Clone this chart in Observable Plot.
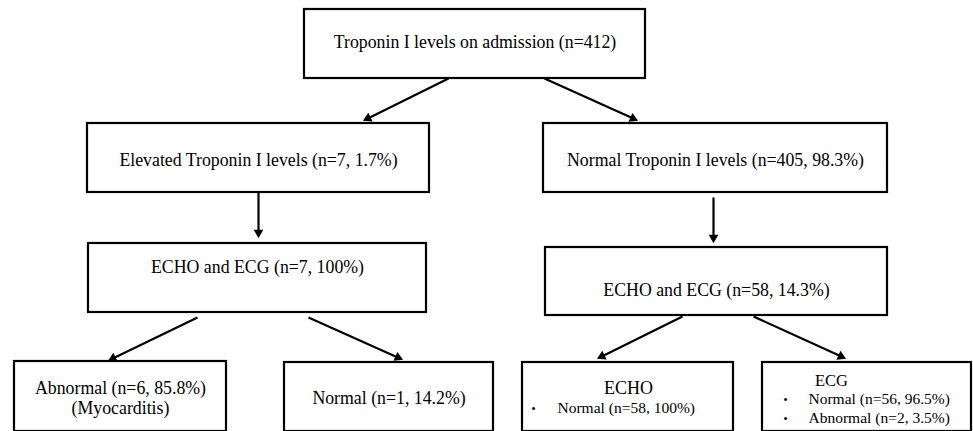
<!DOCTYPE html>
<html>
<head>
<meta charset="utf-8">
<script src="https://cdn.jsdelivr.net/npm/d3@7"></script>
<script src="https://cdn.jsdelivr.net/npm/@observablehq/plot@0.6"></script>
<style>
  html, body { margin: 0; padding: 0; background: #fff; }
  #chart svg { display: block; }
</style>
</head>
<body>
<div id="chart"></div>
<script>
// ---- content (text of each node) ----
const nodeIds = ["root", "elevated", "normalTrop", "echoEcgElev", "echoEcgNorm", "abnormal", "normalElev", "echo", "ecg"];
const nodeTitles = [
  "Troponin I levels on admission (n=412)",
  "Elevated Troponin I levels (n=7, 1.7%)",
  "Normal Troponin I levels (n=405, 98.3%)",
  "ECHO and ECG (n=7, 100%)",
  "ECHO and ECG (n=58, 14.3%)",
  "Abnormal (n=6, 85.8%)",
  "Normal (n=1, 14.2%)",
  "ECHO",
  "ECG"
];
const nodeSubtitles = ["", "", "", "", "", "(Myocarditis)", "", "", ""];
const echoBullets = ["Normal (n=58, 100%)"];
const ecgBullets = ["Normal (n=56, 96.5%)", "Abnormal (n=2, 3.5%)"];
const edges = [
  ["root", "elevated"], ["root", "normalTrop"],
  ["elevated", "echoEcgElev"], ["normalTrop", "echoEcgNorm"],
  ["echoEcgElev", "abnormal"], ["echoEcgElev", "normalElev"],
  ["echoEcgNorm", "echo"], ["echoEcgNorm", "ecg"]
];

// ---- layout (diagram geometry, kept apart from the content) ----
const boxLayout = {
  root:        {x1: 304, x2: 645, y1: 9,   y2: 78,  ty: [42]},
  elevated:    {x1: 87,  x2: 429, y1: 123, y2: 192, ty: [160]},
  normalTrop:  {x1: 543, x2: 887, y1: 123, y2: 192, ty: [160]},
  echoEcgElev: {x1: 88,  x2: 426, y1: 243, y2: 312, ty: [267]},
  echoEcgNorm: {x1: 545, x2: 887, y1: 247, y2: 315, ty: [290]},
  abnormal:    {x1: 14,  x2: 226, y1: 361, y2: 431, ty: [388, 408]},
  normalElev:  {x1: 284, x2: 493, y1: 362, y2: 431, ty: [398]},
  echo:        {x1: 522, x2: 733, y1: 362, y2: 431, ty: [388], tx: 628, size: 18, by: [408], bx: 533, btx: 557},
  ecg:         {x1: 762, x2: 971, y1: 362, y2: 431, ty: [380], tx: 831, size: 16.5, by: [399, 418], bx: 785, btx: 808}
};
const edgeLayout = [
  {x1: 448, y1: 78,  x2: 363, y2: 120},
  {x1: 544, y1: 78,  x2: 637, y2: 120},
  {x1: 258, y1: 192, x2: 258, y2: 237},
  {x1: 713, y1: 197, x2: 713, y2: 242},
  {x1: 197, y1: 317, x2: 108, y2: 360},
  {x1: 308, y1: 317, x2: 402, y2: 359},
  {x1: 682, y1: 316, x2: 597, y2: 358},
  {x1: 753, y1: 316, x2: 845, y2: 358}
];

// ---- build tables ----
const boxes = nodeIds.map((id, i) => ({id, ...boxLayout[id]}));

const texts = [];
nodeIds.forEach((id, i) => {
  const L = boxLayout[id];
  const cx = L.tx ?? (L.x1 + L.x2) / 2;
  const size = L.size ?? 17.8;
  texts.push({x: cx, y: L.ty[0], text: nodeTitles[i], size, anchor: "middle"});
  if (nodeSubtitles[i]) texts.push({x: cx, y: L.ty[1], text: nodeSubtitles[i], size, anchor: "middle"});
});
const bullets = [];
[["echo", echoBullets], ["ecg", ecgBullets]].forEach(([id, list]) => {
  const L = boxLayout[id];
  list.forEach((t, j) => {
    bullets.push({x: L.btx, y: L.by[j], text: t, bx: L.bx});
  });
});

const HEAD = 8;
const links = edges.map((e, i) => {
  const g = edgeLayout[i];
  const dx = g.x2 - g.x1, dy = g.y2 - g.y1, len = Math.hypot(dx, dy);
  const ux = dx / len, uy = dy / len;
  return {
    from: e[0], to: e[1],
    x1: g.x1, y1: g.y1,
    x2: g.x2 - ux * (HEAD - 1), y2: g.y2 - uy * (HEAD - 1),
    hx: g.x2 - ux * HEAD * 0.62, hy: g.y2 - uy * HEAD * 0.62,
    angle: Math.atan2(dx, -dy) * 180 / Math.PI
  };
});

const font = "Liberation Serif";

const chart = Plot.plot({
  width: 973,
  height: 431,
  margin: 0,
  x: {domain: [0, 973], range: [0, 973], axis: null},
  y: {domain: [0, 431], range: [0, 431], axis: null},
  style: {background: "#fff", fontFamily: "Liberation Serif"},
  marks: [
    Plot.rect(boxes, {x1: "x1", x2: "x2", y1: "y1", y2: "y2", fill: "white", stroke: "black", strokeWidth: 2.2}),
    Plot.link(links, {x1: "x1", y1: "y1", x2: "x2", y2: "y2", stroke: "black", strokeWidth: 2.2}),
    Plot.dot(links, {x: "hx", y: "hy", symbol: "triangle", r: 3.6, fill: "black", stroke: null, rotate: "angle"}),
    Plot.text(texts, {x: "x", y: "y", text: "text", fontSize: "size", textAnchor: "anchor", lineAnchor: "middle", fontFamily: font, fill: "black"}),
    Plot.text(bullets, {x: "bx", y: "y", text: () => "•", fontSize: 13, lineAnchor: "middle", fontFamily: font, fill: "black"}),
    Plot.text(bullets, {x: "x", y: "y", text: "text", fontSize: 15.5, textAnchor: "start", lineAnchor: "middle", fontFamily: font, fill: "black"})
  ]
});
document.getElementById("chart").appendChild(chart);
</script>
</body>
</html>
